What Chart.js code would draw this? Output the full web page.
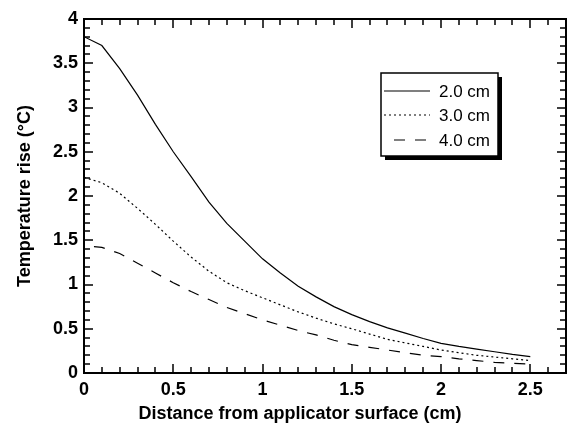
<!DOCTYPE html>
<html lang="en">
<head>
  <meta charset="UTF-8">
  <title>Temperature rise</title>
  <style>
    body { margin: 0; background: #fff; }
    .chartBox { width: 568px; height: 432px; }
  </style>
</head>
<body>
<div class="chartBox">
  <canvas id="myChart" width="568" height="432"></canvas>
</div>
<script src="https://cdn.jsdelivr.net/npm/chart.js"></script>
<script>
  // distance from applicator surface (cm)
  const distances = [0, 0.1, 0.2, 0.3, 0.4, 0.5, 0.6, 0.7, 0.8, 0.9, 1.0, 1.1, 1.2,
    1.3, 1.4, 1.5, 1.6, 1.7, 1.8, 1.9, 2.0, 2.1, 2.2, 2.3, 2.4, 2.5];
  const seriesNames = ['2.0 cm', '3.0 cm', '4.0 cm'];
  const rise20 = [3.80, 3.70, 3.44, 3.14, 2.81, 2.50, 2.22, 1.93, 1.69, 1.49, 1.29, 1.13, 0.98,
    0.86, 0.75, 0.66, 0.58, 0.51, 0.45, 0.39, 0.335, 0.30, 0.27, 0.24, 0.21, 0.185];
  const rise30 = [2.21, 2.15, 2.03, 1.86, 1.68, 1.49, 1.31, 1.15, 1.02, 0.93, 0.85, 0.77, 0.69,
    0.62, 0.555, 0.50, 0.44, 0.38, 0.34, 0.30, 0.26, 0.23, 0.20, 0.18, 0.16, 0.14];
  const rise40 = [1.44, 1.42, 1.35, 1.24, 1.13, 1.02, 0.92, 0.83, 0.74, 0.67, 0.60, 0.54, 0.48,
    0.43, 0.37, 0.32, 0.29, 0.26, 0.23, 0.20, 0.185, 0.16, 0.14, 0.12, 0.11, 0.10];
  const xTitle = 'Distance from applicator surface (cm)';
  const yTitle = 'Temperature rise (°C)';
  const xMinorTicks = [0, 0.1, 0.2, 0.3, 0.4, 0.5, 0.6, 0.7, 0.8, 0.9, 1.0, 1.1, 1.2, 1.3,
    1.4, 1.5, 1.6, 1.7, 1.8, 1.9, 2.0, 2.1, 2.2, 2.3, 2.4, 2.5, 2.6, 2.7];
  const yMinorTicks = [];
  for (let i = 0; i <= 40; i++) yMinorTicks.push(i / 10);

  const dashes = [[], [2, 3], [11, 10]];
  const dashOffsets = [0, 0, 11];

  function toPoints(vals) {
    return vals.map((v, i) => ({x: distances[i], y: v}));
  }

  function fmt(v) {
    return parseFloat(Number(v).toFixed(2)).toString();
  }

  // frame, inward ticks, axis titles and the boxed legend
  const decorPlugin = {
    id: 'decor',
    afterDraw(chart) {
      const c = chart.ctx;
      const a = chart.chartArea;
      const xs = chart.scales.x;
      const ys = chart.scales.y;
      c.save();
      c.setLineDash([]);
      c.lineDashOffset = 0;
      c.strokeStyle = '#000';
      c.lineWidth = 2;
      c.strokeRect(a.left, a.top, a.right - a.left, a.bottom - a.top);

      xMinorTicks.forEach((v, i) => {
        const px = Math.round(xs.getPixelForValue(v));
        const len = i % 5 === 0 ? 9 : 6;
        c.fillStyle = '#000';
        c.fillRect(px - 0.75, a.bottom - len, 1.5, len);
        c.fillRect(px - 0.75, a.top, 1.5, len);
      });
      yMinorTicks.forEach((v, i) => {
        const py = Math.round(ys.getPixelForValue(v));
        const len = i % 5 === 0 ? 9 : 6;
        c.fillStyle = '#000';
        c.fillRect(a.left, py - 0.75, len, 1.5);
        c.fillRect(a.right - len, py - 0.75, len, 1.5);
      });

      // axis titles
      c.fillStyle = '#000';
      c.font = 'bold 18px "Liberation Sans", Arial, sans-serif';
      c.textAlign = 'center';
      c.textBaseline = 'middle';
      c.fillText(xTitle, 300, 414);
      c.save();
      c.translate(25, (a.top + a.bottom) / 2);
      c.rotate(-Math.PI / 2);
      c.fillText(yTitle, 0, 0);
      c.restore();

      // legend with drop shadow
      c.fillStyle = '#000';
      c.fillRect(385, 77, 117, 83);
      c.fillStyle = '#fff';
      c.fillRect(381, 73, 117, 83);
      c.strokeStyle = '#000';
      c.lineWidth = 1.5;
      c.strokeRect(381, 73, 117, 83);
      const rows = [91, 115, 140];
      c.font = '17px "Liberation Sans", Arial, sans-serif';
      c.textAlign = 'left';
      for (let k = 0; k < 3; k++) {
        c.beginPath();
        c.setLineDash(dashes[k]);
        c.lineDashOffset = dashOffsets[k];
        c.lineWidth = 1.2;
        c.moveTo(384, rows[k]);
        c.lineTo(430, rows[k]);
        c.stroke();
        c.setLineDash([]);
        c.fillStyle = '#000';
        c.fillText(seriesNames[k], 439, rows[k] + 1);
      }
      c.restore();
    }
  };

  const tickFont = {family: '"Liberation Sans", Arial, sans-serif', size: 18, weight: 'bold'};
  const allSeries = [rise20, rise30, rise40];

  const ctx = document.getElementById('myChart');
  const myChart = new Chart(ctx, {
    type: 'line',
    data: {
      datasets: allSeries.map((vals, k) => ({
        label: seriesNames[k],
        data: toPoints(vals),
        borderColor: '#000',
        borderWidth: 1.2,
        borderDash: dashes[k],
        borderDashOffset: dashOffsets[k],
        pointRadius: 0,
        tension: 0,
        fill: false
      }))
    },
    options: {
      responsive: false,
      maintainAspectRatio: false,
      animation: false,
      layout: {padding: {top: 19, right: 2, left: 0, bottom: 0}},
      plugins: {
        legend: {display: false},
        tooltip: {enabled: false}
      },
      scales: {
        x: {
          type: 'linear',
          min: 0,
          max: 2.7,
          grid: {display: false, drawTicks: false},
          border: {display: false},
          ticks: {stepSize: 0.5, includeBounds: false, color: '#000', font: tickFont, padding: 6,
            maxRotation: 0, callback: fmt},
          afterFit(scale) { scale.height = 59; }
        },
        y: {
          min: 0,
          max: 4,
          grid: {display: false, drawTicks: false},
          border: {display: false},
          ticks: {stepSize: 0.5, color: '#000', font: tickFont, padding: 6, callback: fmt},
          afterFit(scale) { scale.width = 84; }
        }
      }
    },
    plugins: [decorPlugin]
  });
</script>
</body>
</html>
